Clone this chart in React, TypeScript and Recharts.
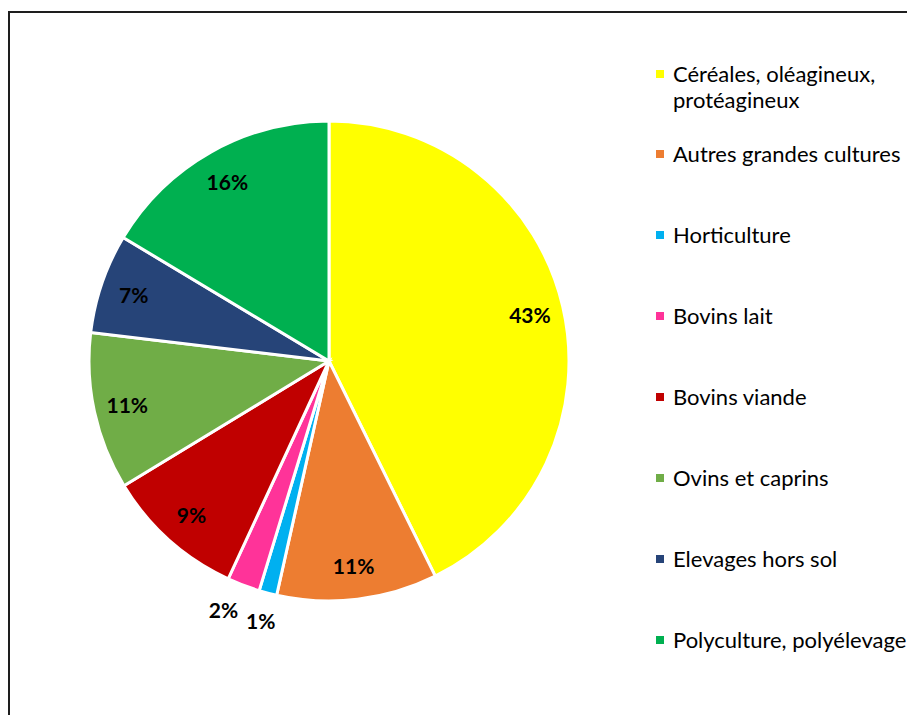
import React from 'react';
import { PieChart, Pie, Cell, Legend } from 'recharts';

const categories = [
  'Céréales, oléagineux, protéagineux',
  'Autres grandes cultures',
  'Horticulture',
  'Bovins lait',
  'Bovins viande',
  'Ovins et caprins',
  'Elevages hors sol',
  'Polyculture, polyélevage',
];
const shares = [42.7, 10.8, 1.2, 2.2, 9.4, 10.6, 6.7, 16.4];
const colors = ['#FFFF00', '#ED7D31', '#00B0F0', '#FF3399', '#C00000', '#70AD47', '#264478', '#00B050'];

const data = categories.map((name, i) => ({ name, value: shares[i] }));

const FONT = 'Lato, "Liberation Sans", sans-serif';
const RAD = Math.PI / 180;

const renderLabel = (props: any) => {
  const { cx, cy, midAngle, outerRadius, percent } = props;
  const pct = Math.round(percent * 100);
  const small = percent < 0.05;
  const r = small ? outerRadius + 28 : outerRadius * 0.86;
  // the two tiny slices sit side by side, push the bigger one's label outwards a bit
  const nudge = small && pct >= 2 ? -10 : 0;
  const x = cx + r * Math.cos(-midAngle * RAD) + nudge;
  const y = cy + r * Math.sin(-midAngle * RAD) + (small && pct >= 2 ? -2 : 0);
  return (
    <text
      x={x}
      y={y}
      textAnchor="middle"
      dominantBaseline="central"
      fill="#000"
      fontFamily={FONT}
      fontWeight={700}
      fontSize={21}
    >
      {pct}%
    </text>
  );
};

// legend drawn from the category list so it keeps the series order
const renderLegend = () => (
  <div style={{ display: 'flex', flexDirection: 'column', fontFamily: FONT, fontSize: 22, color: '#000' }}>
    {categories.map((name, i) => (
      <div
        key={name}
        style={{ display: 'flex', alignItems: 'flex-start', marginTop: i === 0 ? 0 : i === 1 ? 28 : 55 }}
      >
        <span style={{ width: 8, height: 8, background: colors[i], marginTop: 9, marginRight: 9, flexShrink: 0 }} />
        <span style={{ lineHeight: '26px', width: 250 }}>{name}</span>
      </div>
    ))}
  </div>
);

export default function App() {
  return (
    <div style={{ paddingTop: 3 }}>
      <style>{'body{overflow:hidden}'}</style>
      <div style={{ position: 'relative', width: 930, height: 730, border: '2px solid #1e1e1e', boxSizing: 'border-box' }}>
        <PieChart width={905} height={702} margin={{ top: 0, right: 0, bottom: 0, left: 0 }}>
          <Pie
            data={data}
            dataKey="value"
            nameKey="name"
            cx={319}
            cy={348}
            outerRadius={240}
            startAngle={90}
            endAngle={-270}
            stroke="#fff"
            strokeWidth={3}
            label={renderLabel}
            labelLine={false}
            isAnimationActive={false}
          >
            {data.map((d, i) => (
              <Cell key={d.name} fill={colors[i]} />
            ))}
          </Pie>
          <Legend
            layout="vertical"
            align="right"
            verticalAlign="top"
            content={renderLegend}
            wrapperStyle={{ left: 646, top: 48, width: 265, right: 'auto' }}
          />
        </PieChart>
      </div>
    </div>
  );
}
